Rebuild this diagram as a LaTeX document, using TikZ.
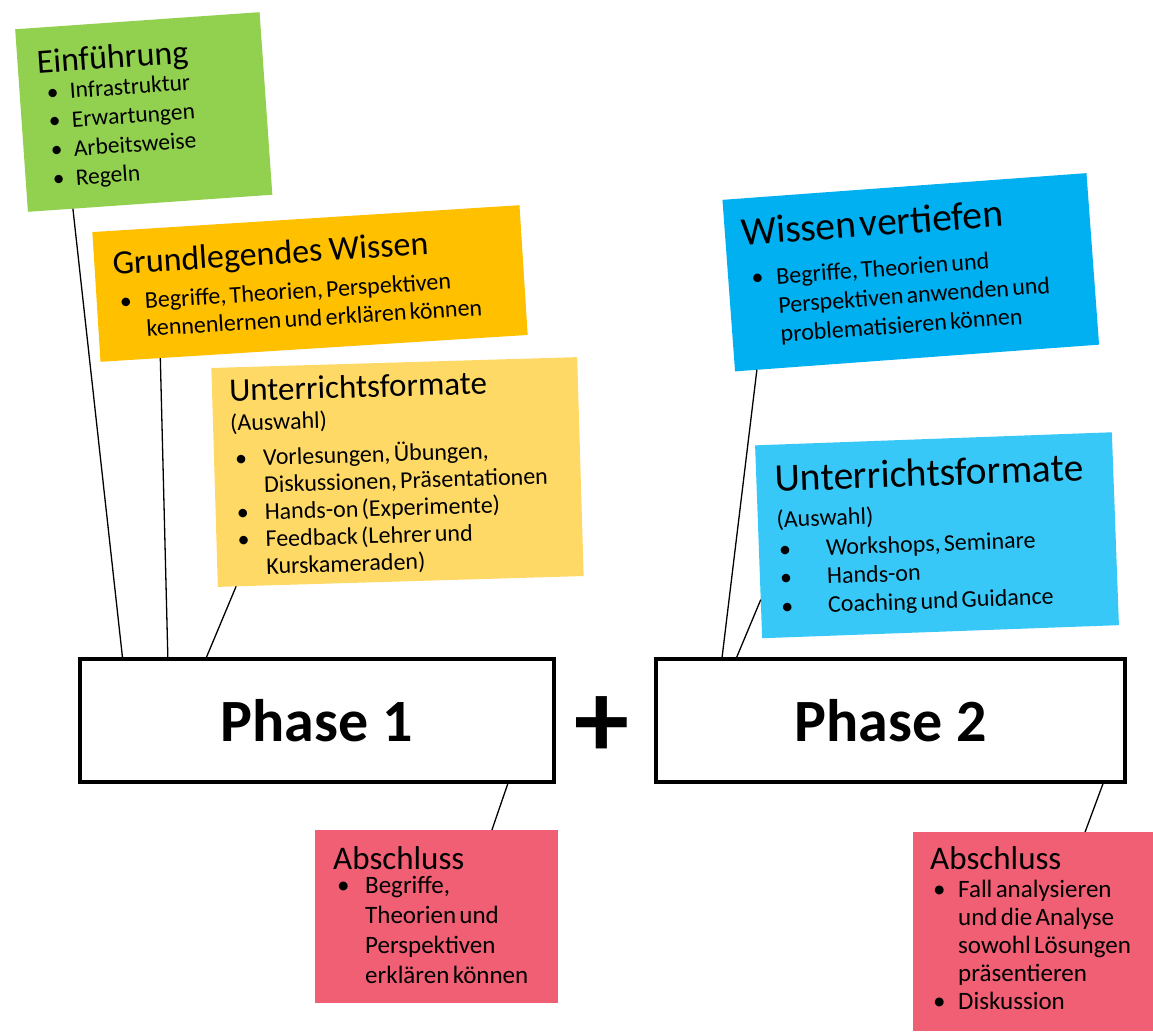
\documentclass[tikz,border=0pt]{standalone}
\usepackage{fontspec}
\setmainfont{Carlito}
\usetikzlibrary{calc}
\definecolor{cgreen}{HTML}{92D050}
\definecolor{corange}{HTML}{FFC000}
\definecolor{clorange}{HTML}{FFD966}
\definecolor{cblue}{HTML}{00B0F0}
\definecolor{clblue}{HTML}{38C8F8}
\definecolor{cred}{HTML}{F05F73}
\newcommand{\bl}[3]{\par\hangindent=#2pt\hangafter=1\noindent\makebox[#2pt][l]{\hspace*{#1pt}•}#3}
\tikzset{
  box/.style={inner sep=0pt, outer sep=0pt, draw=none},
  txt/.style={anchor=north west, inner sep=0pt, align=left, text=black},
  phasebox/.style={draw=black, line width=4pt, fill=white, minimum height=123pt, inner sep=0pt,
    font=\fontsize{60}{60}\selectfont\bfseries},
  link/.style={line width=1.3pt, black},
}
\begin{document}
\begin{tikzpicture}[x=1pt,y=-1pt]
\fill[white] (0,0) rectangle (1153,1031);
\useasboundingbox (0,0) rectangle (1153,1031);

% Einfuehrung
\begin{scope}[shift={(143.75,112)}, rotate=4, transform shape]
\node[box, fill=cgreen, minimum width=245pt, minimum height=183pt] (ein) at (0,0) {};
\node[txt, text width=220pt] (eintxt) at (-103.5,-69.5) {%
{\fontsize{34}{34}\selectfont Einführung\par}
\vspace{-2pt}
\fontsize{23.5}{29}\selectfont
\bl{8}{31}{Infrastruktur}
\bl{8}{31}{Erwartungen}
\bl{8}{31}{Arbeitsweise}
\bl{8}{31}{Regeln}\par};
\end{scope}

% Grundlegendes Wissen
\begin{scope}[shift={(310,283.5)}, rotate=3.6, transform shape]
\node[box, fill=corange, minimum width=428pt, minimum height=130pt] (gw) at (0,0) {};
\node[txt, text width=405pt] (gwtxt) at (-196,-45.3) {%
{\fontsize{34}{34}\selectfont Grundlegendes\ \ Wissen\par}
\vspace{8pt}
\fontsize{24}{28}\selectfont
\bl{5}{30}{Begriffe, Theorien, Perspektiven\newline kennenlernen und erklären können}\par};
\end{scope}

% Unterrichtsformate 1
\begin{scope}[shift={(397.5,472)}, rotate=1.7, transform shape]
\node[box, fill=clorange, minimum width=366pt, minimum height=219pt] (uf1) at (0,0) {};
\node[txt, text width=345pt] (uf1txt) at (-166,-98.5) {%
{\fontsize{33}{33}\selectfont Unterrichtsformate\par}
{\fontsize{24}{29.5}\selectfont (Auswahl)\par}
\vspace{8pt}
\fontsize{24}{27.2}\selectfont
\bl{4}{32}{Vorlesungen, Übungen,\newline Diskussionen, Präsentationen}
\bl{4}{32}{Hands-on (Experimente)}
\bl{4}{32}{Feedback (Lehrer und\newline Kurskameraden)}\par};
\end{scope}

% Wissen vertiefen
\begin{scope}[shift={(910.75,272.25)}, rotate=4.2, transform shape]
\node[box, fill=cblue, minimum width=365pt, minimum height=172pt] (wv) at (0,0) {};
\node[txt, text width=345pt] (wvtxt) at (-166.5,-66.5) {%
{\fontsize{39.5}{39.5}\selectfont Wissen vertiefen\par}
\vspace{12pt}
\fontsize{24}{29}\selectfont
\bl{7}{32}{Begriffe, Theorien und\newline Perspektiven anwenden und\newline problematisieren können}\par};
\end{scope}

% Unterrichtsformate 2
\begin{scope}[shift={(937,535.25)}, rotate=2.1, transform shape]
\node[box, fill=clblue, minimum width=357pt, minimum height=193pt] (uf2) at (0,0) {};
\node[txt, text width=335pt] (uf2txt) at (-160,-77) {%
{\fontsize{39.5}{39.5}\selectfont Unterrichtsformate\par}
{\fontsize{24}{35.7}\selectfont (Auswahl)\par}
\vspace{1.3pt}
\fontsize{24}{28.5}\selectfont
\bl{1.5}{48.5}{Workshops, Seminare}
\bl{1.5}{48.5}{Hands-on}
\bl{1.5}{48.5}{Coaching und Guidance}\par};
\end{scope}

% Abschluss 1
\node[box, fill=cred, minimum width=243pt, minimum height=173pt] (ab1) at (436.5,916.5) {};
\node[txt, text width=220pt] (ab1txt) at ($(ab1.north west)+(18,16)$) {%
{\fontsize{33}{33}\selectfont Abschluss\par}
\vspace{-6pt}
\fontsize{25}{30}\selectfont
\bl{4}{32}{Begriffe,\newline Theorien und\newline Perspektiven\newline erklären können}\par};

% Abschluss 2
\node[box, fill=cred, minimum width=240pt, minimum height=199pt] (ab2) at (1033,931.5) {};
\node[txt, text width=220pt] (ab2txt) at ($(ab2.north west)+(17,14)$) {%
{\fontsize{33}{33}\selectfont Abschluss\par}
\fontsize{25}{28}\selectfont
\bl{3}{28}{Fall analysieren\newline und die Analyse\newline sowohl Lösungen\newline präsentieren}
\bl{3}{28}{Diskussion}\par};

% Phases
\node[phasebox, minimum width=474pt] (p1) at (316.5,720.5) {Phase 1};
\node[phasebox, minimum width=469pt] (p2) at (890.5,720.5) {Phase 2};
\node[anchor=base, inner sep=0pt, font=\fontsize{110}{110}\selectfont\bfseries] (plus) at (602,757) {+};

% connectors
\draw[link] ($(ein.south west)!0.184!(ein.south east)$) -- ($(p1.north west)!0.094!(p1.north east)$);
\draw[link] ($(gw.south west)!0.14!(gw.south east)$) -- ($(p1.north west)!0.189!(p1.north east)$);
\draw[link] ($(uf1.south west)!0.05!(uf1.south east)$) -- ($(p1.north west)!0.27!(p1.north east)$);
\draw[link] ($(wv.south west)!0.06!(wv.south east)$) -- ($(p2.north west)!0.144!(p2.north east)$);
\draw[link] ($(uf2.north west)!0.8!(uf2.south west)$) -- ($(p2.north west)!0.175!(p2.north east)$);
\draw[link] ($(ab1.north west)!0.728!(ab1.north east)$) -- ($(p1.south west)!0.90!(p1.south east)$);
\draw[link] ($(ab2.north west)!0.717!(ab2.north east)$) -- ($(p2.south west)!0.949!(p2.south east)$);
\end{tikzpicture}
\end{document}
